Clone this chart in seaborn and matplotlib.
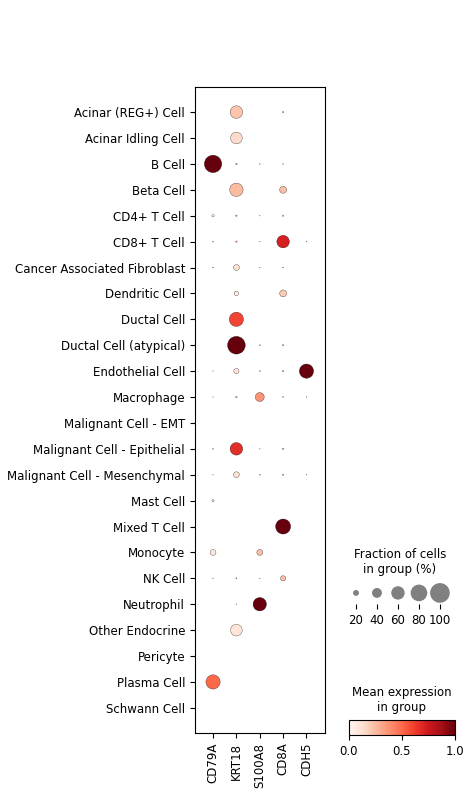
import numpy as np
import pandas as pd
import matplotlib
matplotlib.use("Agg")
import matplotlib.pyplot as plt
import seaborn as sns

genes = ["CD79A", "KRT18", "S100A8", "CD8A", "CDH5"]
cell_types = [
    "Acinar (REG+) Cell", "Acinar Idling Cell", "B Cell", "Beta Cell",
    "CD4+ T Cell", "CD8+ T Cell", "Cancer Associated Fibroblast",
    "Dendritic Cell", "Ductal Cell", "Ductal Cell (atypical)",
    "Endothelial Cell", "Macrophage", "Malignant Cell - EMT",
    "Malignant Cell - Epithelial", "Malignant Cell - Mesenchymal",
    "Mast Cell", "Mixed T Cell", "Monocyte", "NK Cell", "Neutrophil",
    "Other Endocrine", "Pericyte", "Plasma Cell", "Schwann Cell",
]

# fraction of cells expressing (0-1), one list per gene
frac_CD79A = [0, 0, 0.85, 0, 0.06, 0.02, 0.015, 0, 0, 0, 0.01, 0.01,
              0, 0.02, 0.01, 0.05, 0, 0.2, 0.01, 0, 0, 0, 0.65, 0]
frac_KRT18 = [0.55, 0.5, 0.03, 0.6, 0.03, 0.03, 0.2, 0.14, 0.65, 0.87, 0.17, 0.03,
              0, 0.55, 0.2, 0, 0, 0, 0.02, 0.01, 0.5, 0, 0, 0]
frac_S100A8 = [0, 0, 0.015, 0, 0.01, 0.01, 0.01, 0, 0, 0.02, 0.02, 0.35,
               0, 0.01, 0.02, 0, 0, 0.2, 0.01, 0.6, 0, 0, 0, 0]
frac_CD8A = [0.03, 0, 0.015, 0.25, 0.03, 0.55, 0.015, 0.25, 0, 0.03, 0.03, 0.02,
             0, 0.03, 0.03, 0, 0.7, 0, 0.17, 0, 0, 0, 0, 0]
frac_CDH5 = [0, 0, 0, 0, 0, 0.01, 0, 0, 0, 0, 0.65, 0.01,
             0, 0, 0.01, 0, 0, 0, 0, 0, 0, 0, 0, 0]

# scaled mean expression (0-1), one list per gene
expr_CD79A = [0, 0, 1.0, 0, 0.02, 0.05, 0.05, 0, 0, 0, 0.05, 0.05,
              0, 0.05, 0.05, 0.1, 0, 0.08, 0.05, 0, 0, 0, 0.5, 0]
expr_KRT18 = [0.22, 0.14, 0.3, 0.25, 0.3, 0.3, 0.12, 0.06, 0.6, 1.0, 0.1, 0.3,
              0, 0.67, 0.12, 0, 0, 0, 0.2, 0.1, 0.1, 0, 0, 0]
expr_S100A8 = [0, 0, 0.05, 0, 0.05, 0.05, 0.05, 0, 0, 0.05, 0.05, 0.37,
               0, 0.05, 0.05, 0, 0, 0.24, 0.05, 1.0, 0, 0, 0, 0]
expr_CD8A = [0.1, 0, 0.1, 0.24, 0.1, 0.72, 0.1, 0.2, 0, 0.1, 0.1, 0.1,
             0, 0.1, 0.1, 0, 1.0, 0, 0.24, 0, 0, 0, 0, 0]
expr_CDH5 = [0, 0, 0, 0, 0, 0.05, 0, 0, 0, 0, 1.0, 0.05,
             0, 0, 0.05, 0, 0, 0, 0, 0, 0, 0, 0, 0]

legend_fracs = [0.2, 0.4, 0.6, 0.8, 1.0]

fracs = [frac_CD79A, frac_KRT18, frac_S100A8, frac_CD8A, frac_CDH5]
exprs = [expr_CD79A, expr_KRT18, expr_S100A8, expr_CD8A, expr_CDH5]

rows = []
for i, ct in enumerate(cell_types):
    for g, f, e in zip(genes, fracs, exprs):
        rows.append([ct, g, f[i], e[i]])
df = pd.DataFrame(rows, columns=["cell", "gene", "frac", "expr"])
df["dot"] = df["frac"] ** 1.5

plt.rcParams["font.size"] = 8.5

fig = plt.figure(figsize=(4.74, 7.98), dpi=100)
ax = fig.add_axes([0.411, 0.0815, 0.275, 0.8095])

sns.scatterplot(data=df, x="gene", y="cell", size="dot", sizes=(0, 200),
                size_norm=(0, 1), hue="expr", palette="Reds", hue_norm=(0, 1),
                edgecolor="black", linewidth=0.2, legend=False, ax=ax)
ax.set_xlim(-0.78, 4.8)
ax.set_ylim(len(cell_types) - 1 + 0.97, -0.97)
ax.set_xlabel("")
ax.set_ylabel("")
ax.tick_params(axis="both", labelsize=8.5)
ax.tick_params(axis="x", labelrotation=90)
ax.grid(False)

# size legend
lax = fig.add_axes([0.728, 0.243, 0.232, 0.028])
leg = pd.DataFrame({"pos": range(len(legend_fracs)), "y": 0,
                    "dot": np.array(legend_fracs) ** 1.5})
sns.scatterplot(data=leg, x="pos", y="y", size="dot", sizes=(0, 200),
                size_norm=(0, 1), color="gray", edgecolor="none",
                legend=False, ax=lax)
lax.set_xlim(-0.52, 4.72)
lax.set_ylim(-0.6, 0.6)
lax.set_xticks(range(len(legend_fracs)))
lax.set_xticklabels([str(int(f * 100)) for f in legend_fracs])
lax.tick_params(labelsize=8.5)
lax.set_yticks([])
lax.set_xlabel("")
lax.set_ylabel("")
for s in lax.spines.values():
    s.set_visible(False)
lax.set_title("Fraction of cells\nin group (%)", fontsize=8.5)

# colorbar
cax = fig.add_axes([0.736, 0.079, 0.224, 0.019])
sm = plt.cm.ScalarMappable(cmap="Reds", norm=plt.Normalize(0, 1))
cb = fig.colorbar(sm, cax=cax, orientation="horizontal", ticks=[0, 0.5, 1.0])
cb.ax.tick_params(labelsize=8.5)
cb.ax.set_title("Mean expression\nin group", fontsize=8.5)

fig.savefig("out.png", dpi=100)
